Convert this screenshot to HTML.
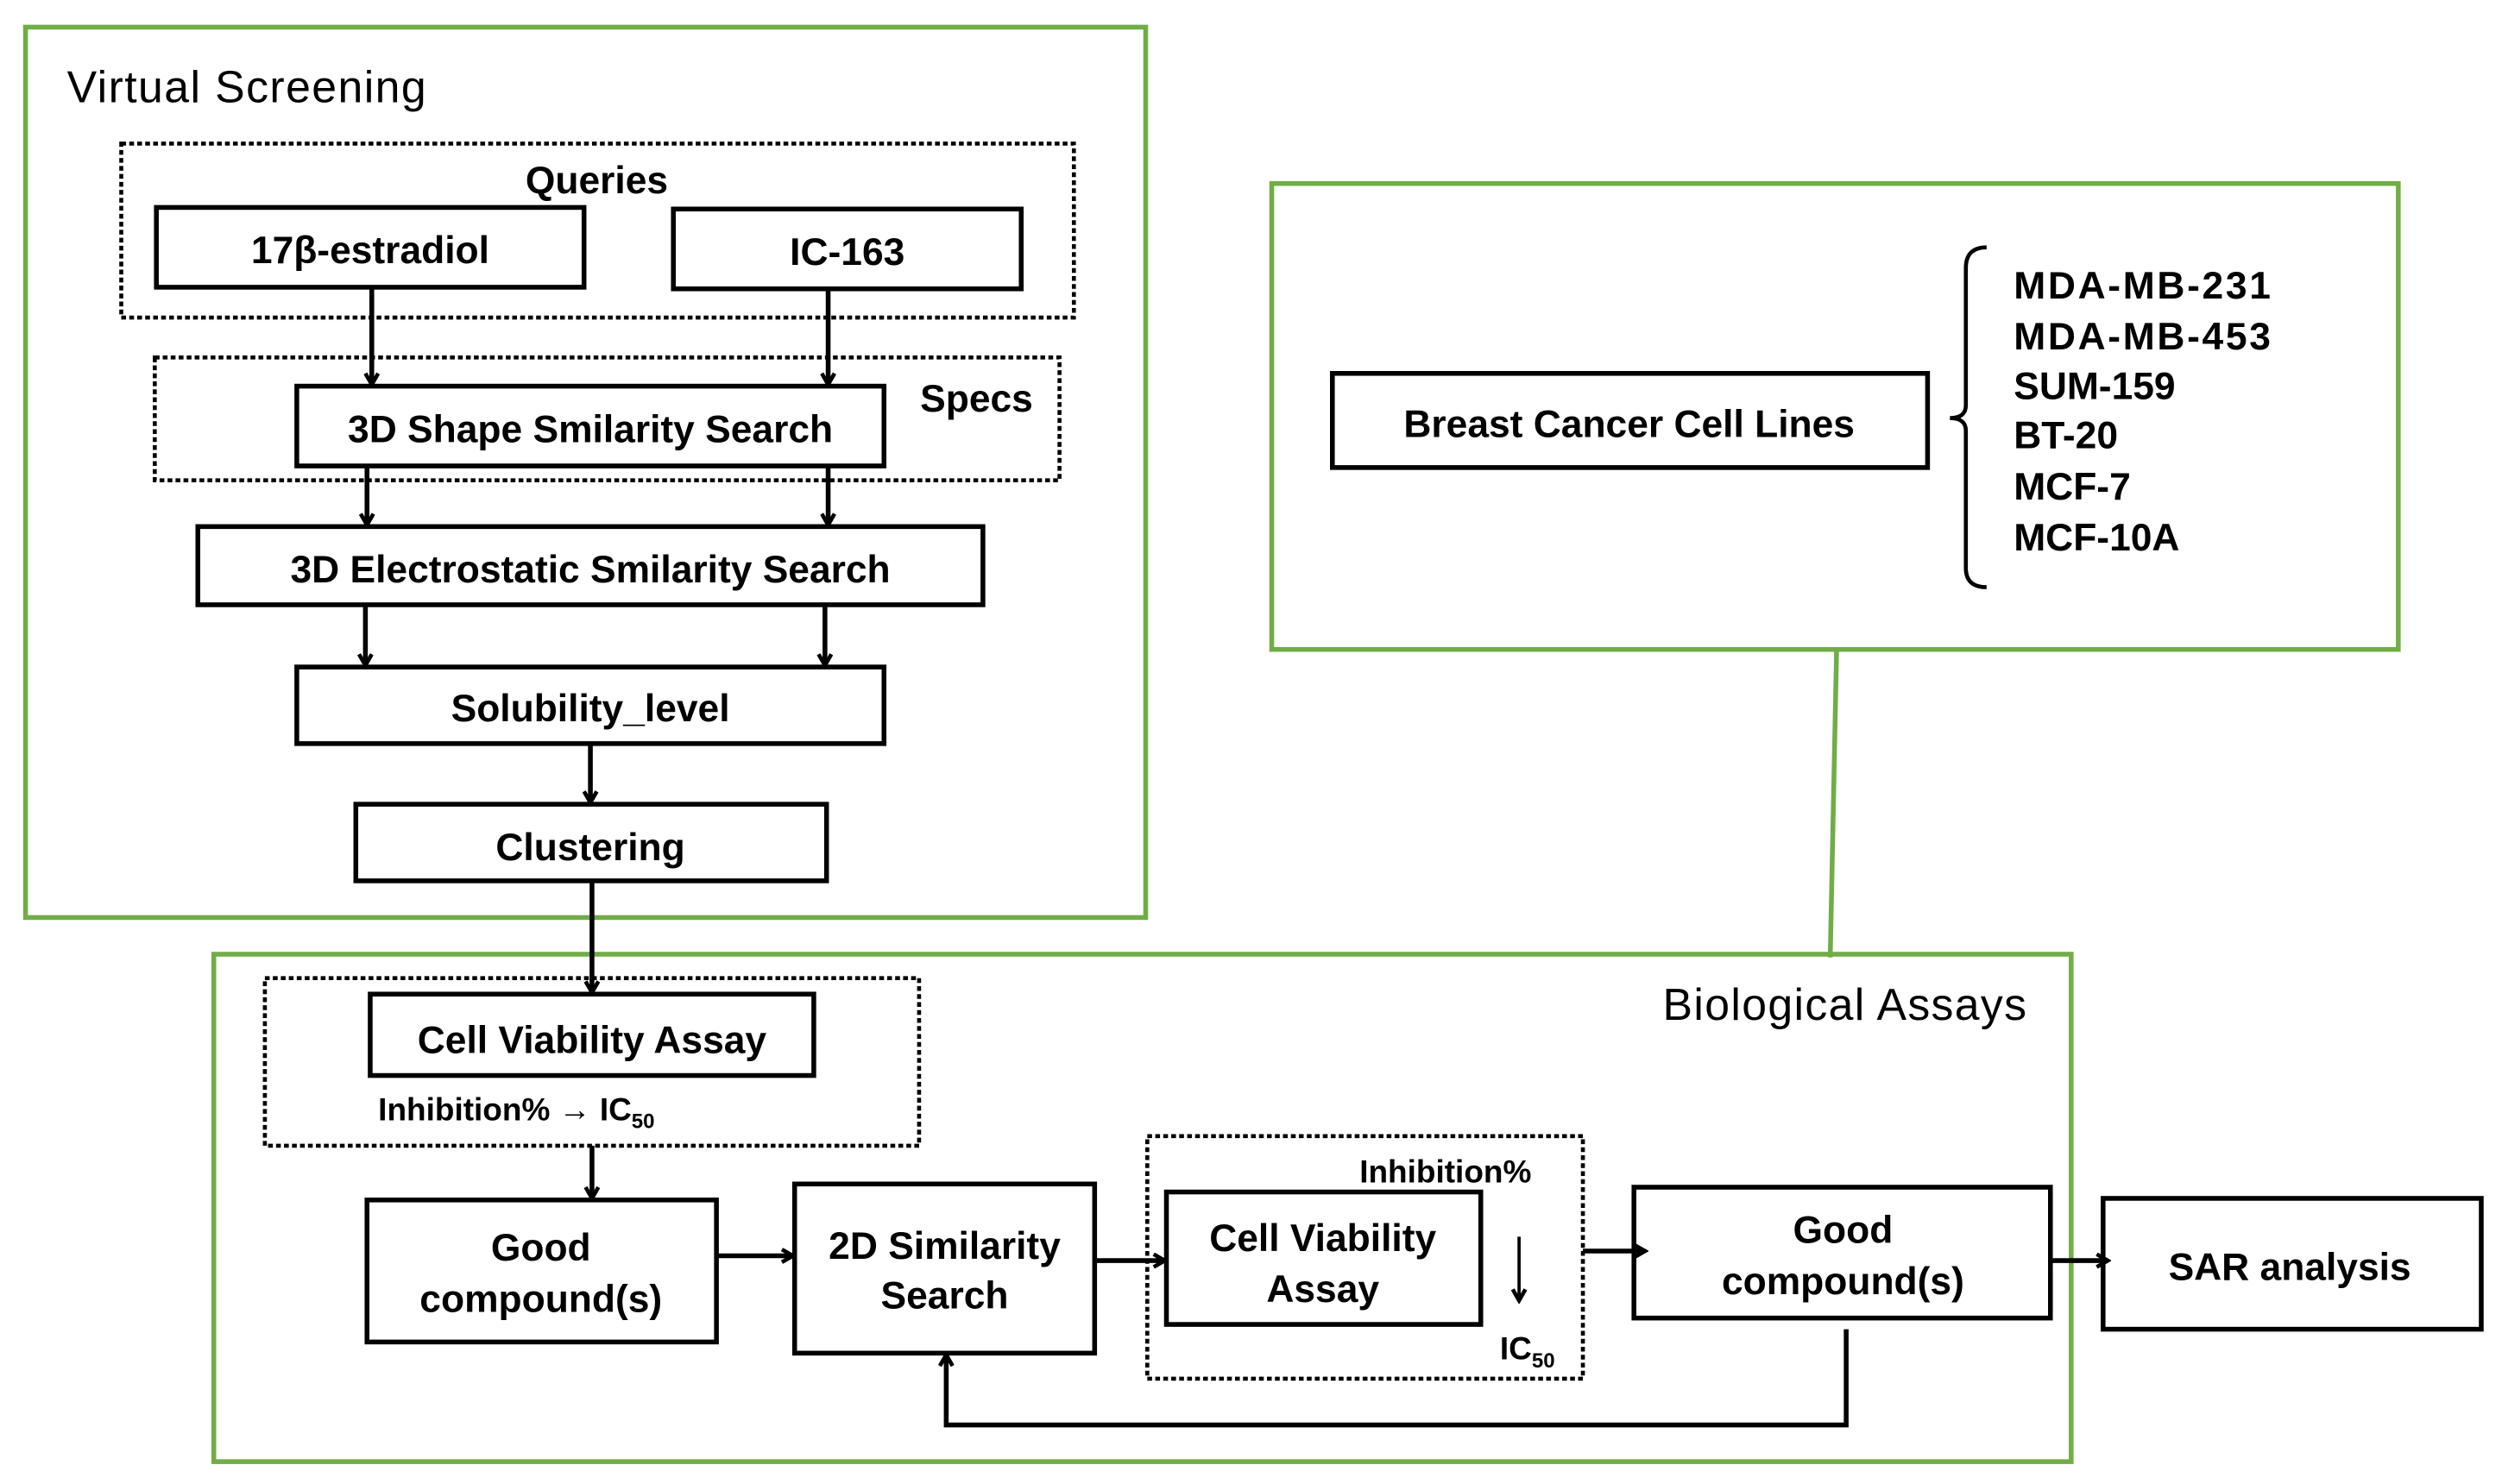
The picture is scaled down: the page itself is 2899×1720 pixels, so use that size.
<!DOCTYPE html>
<html><head><meta charset="utf-8"><style>html,body{margin:0;padding:0;background:#fff}svg{display:block}</style></head>
<body>
<svg width="2899" height="1720" viewBox="0 0 1568 930" preserveAspectRatio="none" xmlns="http://www.w3.org/2000/svg" font-family="Liberation Sans, Arial, sans-serif">
<defs>
<marker id="a" markerWidth="10" markerHeight="10" refX="8" refY="5" orient="auto" markerUnits="userSpaceOnUse"><path d="M1,1 L8,5 L1,9" fill="none" stroke="#000" stroke-width="2.5"/></marker>
</defs>
<g fill="none" stroke="#70ad47" stroke-width="3">
<rect x="16" y="17" width="702" height="558"/>
<rect x="797" y="115" width="706" height="292"/>
<rect x="134" y="598" width="1164" height="318"/>
<path d="M1151,407 L1147,600"/>
</g>
<g fill="none" stroke="#000" stroke-width="2.5" stroke-dasharray="3,2">
<rect x="76" y="90" width="597" height="109"/>
<rect x="97" y="224" width="567" height="77"/>
<rect x="166" y="613" width="410" height="105"/>
<rect x="719" y="712" width="273" height="152"/>
</g>
<g fill="#fff" stroke="#000" stroke-width="3">
<rect x="98" y="130" width="268" height="50"/>
<rect x="422" y="131" width="218" height="50"/>
<rect x="186" y="242" width="368" height="50"/>
<rect x="124" y="330" width="492" height="49"/>
<rect x="186" y="418" width="368" height="48"/>
<rect x="223" y="504" width="295" height="48"/>
<rect x="835" y="234" width="373" height="59"/>
<rect x="232" y="623" width="278" height="51"/>
<rect x="230" y="752" width="219" height="89"/>
<rect x="498" y="742" width="188" height="106"/>
<rect x="731" y="747" width="197" height="83"/>
<rect x="1024" y="744" width="261" height="82"/>
<rect x="1318" y="751" width="237" height="82"/>
</g>
<g fill="none" stroke="#000" stroke-width="3" marker-end="url(#a)">
<path d="M233,180 V241"/><path d="M519,181 V241"/>
<path d="M230,292 V329"/><path d="M519,292 V329"/>
<path d="M229,379 V417"/><path d="M517,379 V417"/>
<path d="M370,466 V503"/>
<path d="M371,552 V622"/>
<path d="M371,718 V751"/>
<path d="M449,787 H497"/>
<path d="M686,790 H730"/>
<path d="M992,784 H1031"/>
<path d="M1285,790 H1321"/>
<path d="M952,775 V815" stroke-width="2"/>
<path d="M1157,833 V893 H593 V849"/>
</g>
<path d="M1245,155 Q1232,155 1232,168 V254 Q1232,262 1222,262 Q1232,262 1232,270 V356 Q1232,368 1245,368" fill="none" stroke="#000" stroke-width="2.5"/>
<g font-size="28" fill="#000">
<text x="42" y="64" textLength="225">Virtual Screening</text>
<text x="1042" y="639" textLength="228">Biological Assays</text>
</g>
<g font-weight="bold" font-size="24" fill="#000" text-anchor="middle">
<text x="374" y="121">Queries</text>
<text x="232" y="165">17β-estradiol</text>
<text x="531" y="166">IC-163</text>
<text x="612" y="258">Specs</text>
<text x="370" y="277">3D Shape Smilarity  Search</text>
<text x="370" y="365">3D Electrostatic  Smilarity  Search</text>
<text x="370" y="452">Solubility_level</text>
<text x="370" y="539">Clustering</text>
<text x="1021" y="274">Breast Cancer Cell Lines</text>
<text x="371" y="660">Cell Viability  Assay</text>
<text x="339" y="790">Good</text>
<text x="339" y="822">compound(s)</text>
<text x="592" y="789">2D Similarity</text>
<text x="592" y="820">Search</text>
<text x="829" y="784">Cell Viability</text>
<text x="829" y="816">Assay</text>
<text x="1155" y="779">Good</text>
<text x="1155" y="811">compound(s)</text>
<text x="1435" y="802">SAR analysis</text>
</g>
<g font-weight="bold" font-size="24" fill="#000">
<text x="1262" y="187" textLength="161">MDA-MB-231</text>
<text x="1262" y="219" textLength="161">MDA-MB-453</text>
<text x="1262" y="250">SUM-159</text>
<text x="1262" y="281">BT-20</text>
<text x="1262" y="313">MCF-7</text>
<text x="1262" y="345">MCF-10A</text>
</g>
<g font-weight="bold" font-size="20" fill="#000">
<text x="237" y="702">Inhibition% → IC<tspan font-size="13" dy="5">50</tspan></text>
<text x="852" y="741">Inhibition%</text>
<text x="940" y="852">IC<tspan font-size="13" dy="5">50</tspan></text>
</g>
</svg>
</body></html>
